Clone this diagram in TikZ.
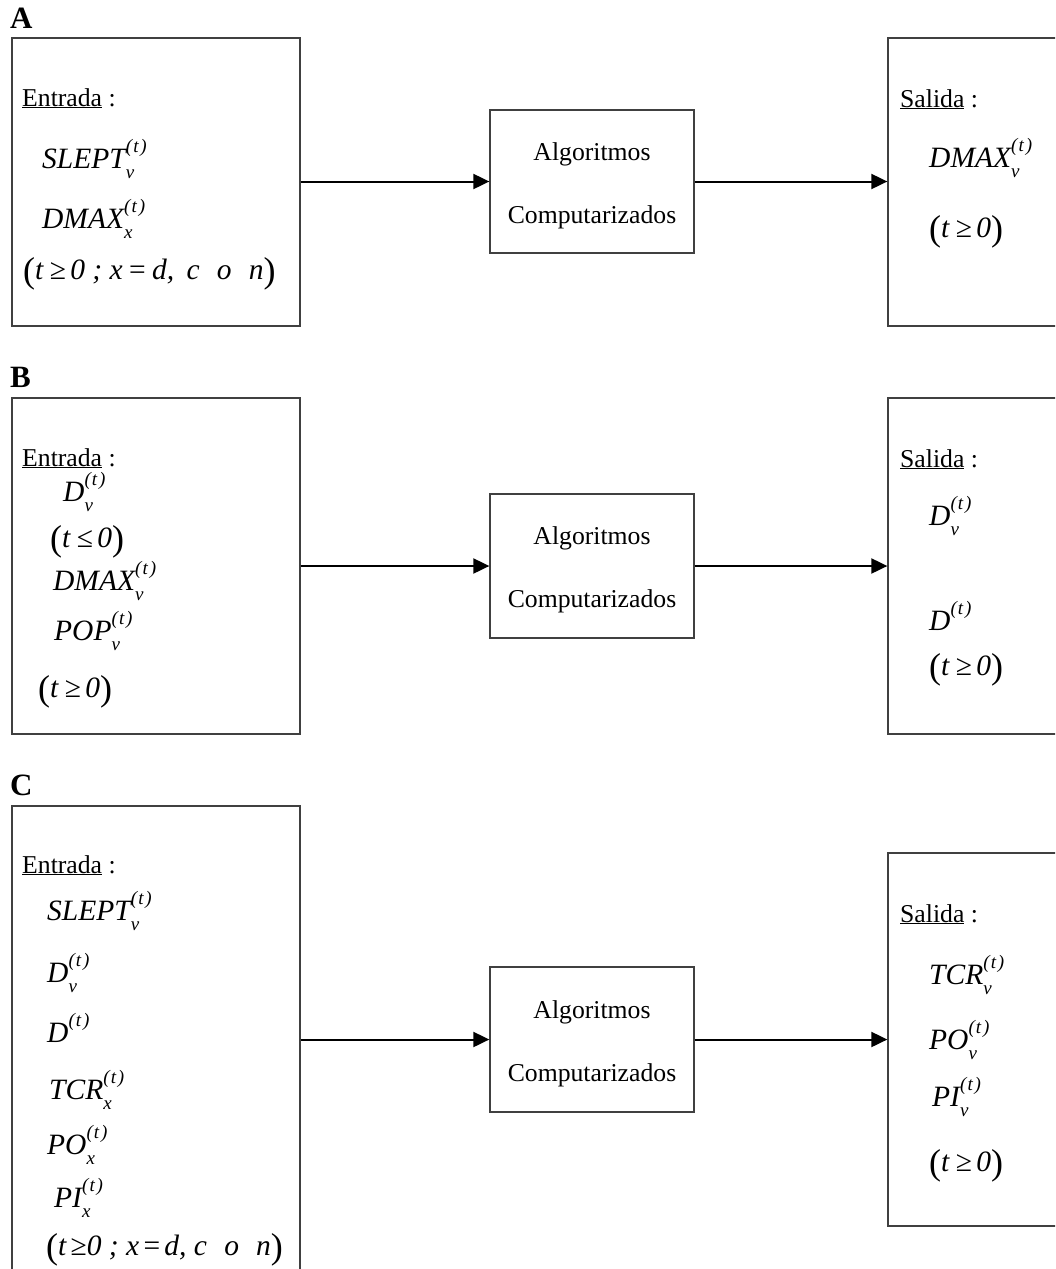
\documentclass[tikz,border=0pt]{standalone}
\usepackage{fontspec}
\setmainfont{Liberation Serif}
\usetikzlibrary{arrows.meta}
\newcommand\mf{\fontsize{29.5}{32}\selectfont\itshape}
\newcommand\subf{\fontsize{19}{19}\selectfont\itshape}
\newcommand\supt{\raisebox{0.62em}{\subf(\kern0.06em t\kern0.1em)}}
\newcommand\vsym[2]{{\mf #1}\rlap{\raisebox{-0.42em}{\subf #2}}\supt}
\newcommand\lp{\raisebox{-0.12em}{\fontsize{36}{36}\selectfont(}}
\newcommand\rp{\raisebox{-0.12em}{\fontsize{36}{36}\selectfont)}}
\newcommand\condx{\lp{\mf t} {\fontsize{29.5}{32}\selectfont≥}\,{\mf 0 ; x} {\fontsize{29.5}{32}\selectfont=} {\mf d, \,c\,\, o\,\, n}\rp}
\newcommand\condy{\lp{\mf t}\,{\fontsize{29.5}{32}\selectfont≥}{\mf 0 ; x}\,{\fontsize{29.5}{32}\selectfont=}\,{\mf d, c\,\, o\,\, n}\rp}
\newcommand\conds[1]{\lp{\mf t} {\fontsize{29.5}{32}\selectfont#1}\,{\mf 0}\rp}
\begin{document}
\begin{tikzpicture}[x=1pt,y=-1pt,
  box/.style={draw=black!75, line width=1.3pt, inner sep=0pt},
  txt/.style={anchor=base west, inner sep=0pt, font=\fontsize{25.7}{30}\selectfont},
  ctxt/.style={txt, anchor=base},
  lab/.style={anchor=base west, inner sep=0pt, font=\fontsize{31}{31}\selectfont\bfseries},
  arr/.style={line width=2pt, -{Triangle[length=16pt,width=15pt]}}]
\useasboundingbox (0,0) rectangle (1055,1269);
\fill[white] (0,0) rectangle (1055,1269);
\clip (0,0) rectangle (1055,1269);

% ---------- A ----------
\node[lab] (labA) at (10,28) {A};
\node[box, minimum width=288pt, minimum height=288pt] (la) at (156,182) {};
\node[box, minimum width=204pt, minimum height=143pt] (ma) at (592,181.5) {};
\node[box, minimum width=187pt, minimum height=288pt] (ra) at (981.5,182) {};
\node[txt] (a1) at (22,106) {\underline{Entrada} :};
\node[txt] (a2) at (42,168) {\vsym{SLEPT}{v}};
\node[txt] (a3) at (42,228) {\vsym{DMAX}{x}};
\node[txt] (a4) at (23,279) {\condx};
\node[ctxt] (ma1) at (592,160) {Algoritmos};
\node[ctxt] (ma2) at (592,223) {Computarizados};
\node[txt] (ar1) at (900,107) {\underline{Salida} :};
\node[txt] (ar2) at (929,167) {\vsym{DMAX}{v}};
\node[txt] (ar3) at (929,237) {\conds{≥}};
\draw[arr] (la.east |- ma.west) -- (ma.west);
\draw[arr] (ma.east) -- (ma.east -| ra.west);

% ---------- B ----------
\node[lab] (labB) at (10,387) {B};
\node[box, minimum width=288pt, minimum height=336pt] (lb) at (156,566) {};
\node[box, minimum width=204pt, minimum height=144pt] (mb) at (592,566) {};
\node[box, minimum width=187pt, minimum height=336pt] (rb) at (981.5,566) {};
\node[txt] (b1) at (22,466) {\underline{Entrada} :};
\node[txt] (b2) at (63,501) {\vsym{D}{v}};
\node[txt] (b3) at (50,547) {\conds{≤}};
\node[txt] (b4) at (53,590) {\vsym{DMAX}{v}};
\node[txt] (b5) at (54,640) {\vsym{POP}{v}};
\node[txt] (b6) at (38,697) {\conds{≥}};
\node[ctxt] (mb1) at (592,544) {Algoritmos};
\node[ctxt] (mb2) at (592,607) {Computarizados};
\node[txt] (br1) at (900,467) {\underline{Salida} :};
\node[txt] (br2) at (929,525) {\vsym{D}{v}};
\node[txt] (br3) at (929,630) {{\mf D}\supt};
\node[txt] (br4) at (929,675) {\conds{≥}};
\draw[arr] (lb.east |- mb.west) -- (mb.west);
\draw[arr] (mb.east) -- (mb.east -| rb.west);

% ---------- C ----------
\node[lab] (labC) at (10,795) {C};
\node[box, minimum width=288pt, minimum height=480pt] (lc) at (156,1046) {};
\node[box, minimum width=204pt, minimum height=145pt] (mc) at (592,1039.5) {};
\node[box, minimum width=187pt, minimum height=373pt] (rc) at (981.5,1039.5) {};
\node[txt] (c1) at (22,873) {\underline{Entrada} :};
\node[txt] (c2) at (47,920) {\vsym{SLEPT}{v}};
\node[txt] (c3) at (47,982) {\vsym{D}{v}};
\node[txt] (c4) at (47,1042) {{\mf D}\supt};
\node[txt] (c5) at (49,1099) {\vsym{TCR}{x}};
\node[txt] (c6) at (47,1154) {\vsym{PO}{x}};
\node[txt] (c7) at (54,1207) {\vsym{PI}{x}};
\node[txt] (c8) at (46,1255) {\condy};
\node[ctxt] (mc1) at (592,1018) {Algoritmos};
\node[ctxt] (mc2) at (592,1081) {Computarizados};
\node[txt] (cr1) at (900,922) {\underline{Salida} :};
\node[txt] (cr2) at (929,984) {\vsym{TCR}{v}};
\node[txt] (cr3) at (929,1049) {\vsym{PO}{v}};
\node[txt] (cr4) at (932,1106) {\vsym{PI}{v}};
\node[txt] (cr5) at (929,1171) {\conds{≥}};
\draw[arr] (lc.east |- mc.west) -- (mc.west);
\draw[arr] (mc.east) -- (mc.east -| rc.west);
\end{tikzpicture}
\end{document}
